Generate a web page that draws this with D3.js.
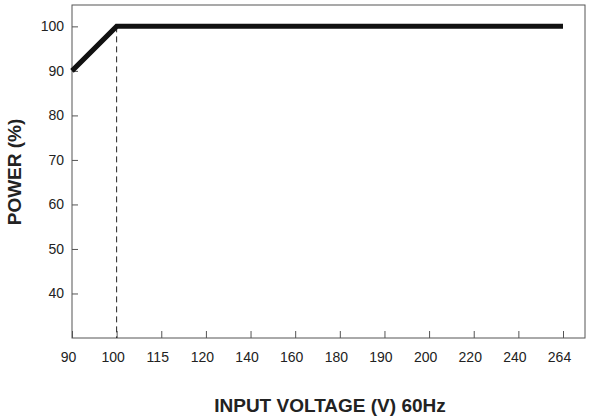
<!DOCTYPE html>
<html><head><meta charset="utf-8">
<script src="https://cdn.jsdelivr.net/npm/d3@7"></script>
<style>body{margin:0;background:#fff}text{font-family:"Liberation Sans",Arial,sans-serif}</style>
</head><body>
<script>
var xTicks = ['90','100','115','120','140','160','180','190','200','220','240','264'];
var yTicks = [40, 50, 60, 70, 80, 90, 100];
var powerLine = [{ v: '90', p: 90 }, { v: '100', p: 100 }, { v: '264', p: 100 }];

var svg = d3.select('body').append('svg').attr('width', 597).attr('height', 419);
var L = 72, R = 585, T = 5, B = 338;

var x = d3.scalePoint().domain(xTicks).range([L, 563]);
var y = d3.scaleLinear().domain([30, 104.8]).range([B, T]);

svg.append('rect').attr('x', L).attr('y', T).attr('width', R - L).attr('height', B - T)
	.attr('fill', 'none').attr('stroke', '#555').attr('stroke-width', 1);

var gx = svg.append('g').attr('transform', 'translate(0,' + B + ')')
	.call(d3.axisBottom(x).tickSize(-7).tickPadding(14));
gx.select('.domain').remove();
gx.selectAll('line').attr('stroke', '#555');
gx.selectAll('text').attr('font-size', 14).attr('fill', '#222').attr('dx', -4);

var gy = svg.append('g').attr('transform', 'translate(' + L + ',0)')
	.call(d3.axisLeft(y).tickValues(yTicks).tickSize(-6).tickPadding(8));
gy.select('.domain').remove();
gy.selectAll('line').attr('stroke', '#555');
gy.selectAll('text').attr('font-size', 14).attr('fill', '#222');

svg.append('line').attr('x1', x('100')).attr('x2', x('100'))
	.attr('y1', y(100)).attr('y2', B)
	.attr('stroke', '#222').attr('stroke-dasharray', '6,4');

svg.append('path').datum(powerLine)
	.attr('d', d3.line().x(function(d) { return x(d.v); }).y(function(d) { return y(d.p); }))
	.attr('fill', 'none').attr('stroke', '#111').attr('stroke-width', 5);

svg.append('text').attr('x', 330).attr('y', 412).attr('text-anchor', 'middle')
	.attr('font-size', 19).attr('font-weight', 'bold').attr('fill', '#222')
	.text('INPUT VOLTAGE (V) 60Hz');
svg.append('text').attr('transform', 'translate(21,172) rotate(-90)').attr('text-anchor', 'middle')
	.attr('font-size', 19).attr('font-weight', 'bold').attr('fill', '#222')
	.text('POWER (%)');
</script>
</body></html>
